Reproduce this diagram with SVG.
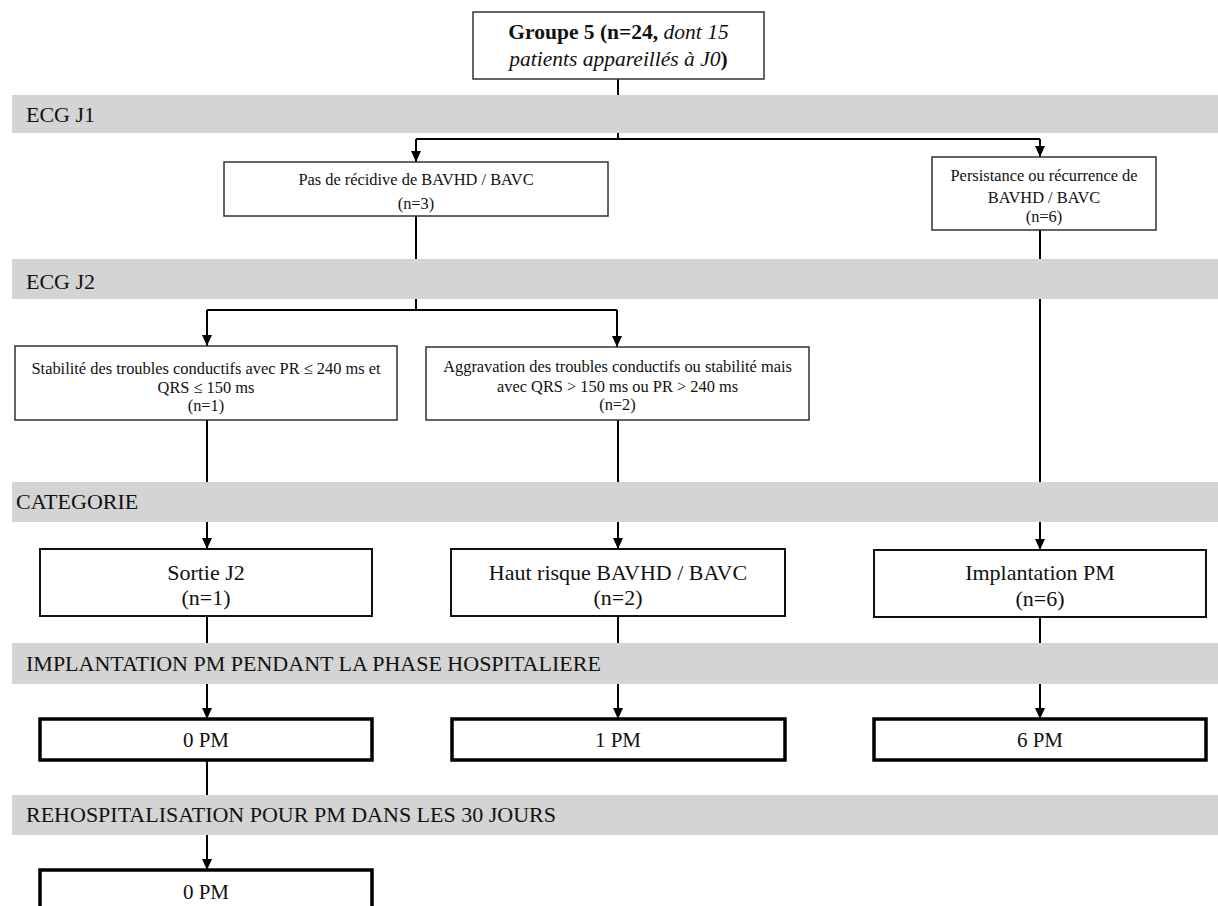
<svg xmlns="http://www.w3.org/2000/svg" width="1218" height="906" viewBox="0 0 1218 906">
<defs>
<marker id="arr" markerUnits="userSpaceOnUse" markerWidth="11" markerHeight="11" viewBox="0 0 11 11" refX="11" refY="5.5" orient="auto"><path d="M0,0.5 L11,5.5 L0,10.5 z" fill="#000"/></marker>
</defs>
<style>
text{font-family:"Liberation Serif","Tinos","Times New Roman","DejaVu Serif",serif;fill:#111;}
.band{fill:#d4d4d4;}
.bl{font-size:22px;}
.sm{font-size:16.4px;text-anchor:middle;}
.cat{font-size:22px;text-anchor:middle;}
.pm{font-size:21px;text-anchor:middle;}
.thin{fill:#fff;stroke:#333;stroke-width:1.5;}
.mid{fill:#fff;stroke:#111;stroke-width:2;}
.thick{fill:#fff;stroke:#000;stroke-width:3.5;}
.c{fill:none;stroke:#000;stroke-width:2;}
.ca{fill:none;stroke:#000;stroke-width:2;marker-end:url(#arr);}
</style>
<rect width="1218" height="906" fill="#fff"/>
<g id="connectors">
<path class="c" d="M618,79 V139 M416,139 H1040"/>
<path class="ca" d="M416,139 V162"/>
<path class="ca" d="M1040,139 V157"/>
<path class="c" d="M416,216 V310 M207,310 H617"/>
<path class="ca" d="M207,310 V346"/>
<path class="ca" d="M617,310 V347"/>
<path class="ca" d="M207,420 V549"/>
<path class="ca" d="M618,420 V549"/>
<path class="ca" d="M1040,230 V550"/>
<path class="ca" d="M207,616 V719"/>
<path class="ca" d="M618,616 V719"/>
<path class="ca" d="M1040,617 V719"/>
<path class="ca" d="M207,760 V870"/>
</g>
<g id="bands">
<g id="band-j1"><rect class="band" x="12" y="95" width="1206" height="38"/><text class="bl" x="26" y="122">ECG J1</text></g>
<g id="band-j2"><rect class="band" x="12" y="259" width="1206" height="40"/><text class="bl" x="26" y="289">ECG J2</text></g>
<g id="band-cat"><rect class="band" x="12" y="482" width="1206" height="40"/><text class="bl" x="16" y="509">CATEGORIE</text></g>
<g id="band-impl"><rect class="band" x="12" y="643" width="1206" height="41"/><text class="bl" x="26" y="671">IMPLANTATION PM PENDANT LA PHASE HOSPITALIERE</text></g>
<g id="band-rehosp"><rect class="band" x="12" y="795" width="1206" height="40"/><text class="bl" x="26" y="822">REHOSPITALISATION POUR PM DANS LES 30 JOURS</text></g>
</g>
<g id="n-groupe">
<rect class="thin" x="473" y="12" width="291" height="67"/>
<text x="618.5" y="39" font-size="21.5" text-anchor="middle"><tspan font-weight="bold">Groupe 5 (n=24, </tspan><tspan font-style="italic">dont 15</tspan></text>
<text x="618.5" y="66" font-size="21.5" text-anchor="middle"><tspan font-style="italic">patients appareillés à J0</tspan><tspan font-weight="bold">)</tspan></text>
</g>
<g id="n-pasrecidive">
<rect class="thin" x="224" y="162" width="384" height="54"/>
<text class="sm" x="416" y="185">Pas de récidive de BAVHD / BAVC</text>
<text class="sm" x="416" y="209">(n=3)</text>
</g>
<g id="n-persistance">
<rect class="thin" x="932" y="157" width="224" height="73"/>
<text class="sm" x="1044" y="181">Persistance ou récurrence de</text>
<text class="sm" x="1044" y="203">BAVHD / BAVC</text>
<text class="sm" x="1044" y="222">(n=6)</text>
</g>
<g id="n-stabilite">
<rect class="thin" x="15" y="346" width="382" height="74"/>
<text class="sm" x="206" y="374">Stabilité des troubles conductifs avec PR ≤ 240 ms et</text>
<text class="sm" x="206" y="393">QRS ≤ 150 ms</text>
<text class="sm" x="206" y="411">(n=1)</text>
</g>
<g id="n-aggravation">
<rect class="thin" x="426" y="347" width="383" height="73"/>
<text class="sm" x="617.5" y="372">Aggravation des troubles conductifs ou stabilité  mais</text>
<text class="sm" x="617.5" y="392">avec QRS &gt; 150 ms ou PR &gt; 240 ms</text>
<text class="sm" x="617.5" y="410">(n=2)</text>
</g>
<g id="n-sortie">
<rect class="mid" x="40" y="549" width="332" height="67"/>
<text class="cat" x="206" y="580">Sortie J2</text>
<text class="cat" x="206" y="605">(n=1)</text>
</g>
<g id="n-hautrisque">
<rect class="mid" x="451" y="549" width="334" height="67"/>
<text class="cat" x="618" y="580">Haut risque BAVHD / BAVC</text>
<text class="cat" x="618" y="605">(n=2)</text>
</g>
<g id="n-implantation">
<rect class="mid" x="874" y="550" width="332" height="67"/>
<text class="cat" x="1040" y="580">Implantation PM</text>
<text class="cat" x="1040" y="606">(n=6)</text>
</g>
<g id="n-pm0">
<rect class="thick" x="40" y="719" width="332" height="41"/>
<text class="pm" x="206" y="747">0 PM</text>
</g>
<g id="n-pm1">
<rect class="thick" x="452" y="719" width="333" height="41"/>
<text class="pm" x="618" y="747">1 PM</text>
</g>
<g id="n-pm6">
<rect class="thick" x="874" y="719" width="332" height="41"/>
<text class="pm" x="1040" y="747">6 PM</text>
</g>
<g id="n-pm0-rehosp">
<rect class="thick" x="40" y="870" width="332" height="44"/>
<text class="pm" x="206" y="899">0 PM</text>
</g>
</svg>
